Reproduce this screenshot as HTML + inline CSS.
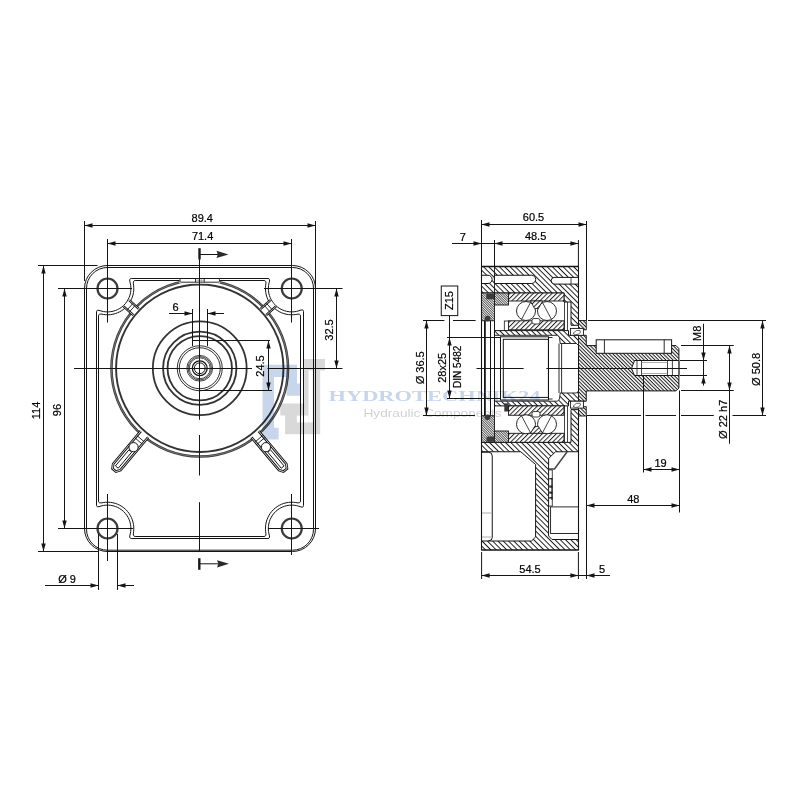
<!DOCTYPE html>
<html><head><meta charset="utf-8"><style>
html,body{margin:0;padding:0;background:#fff;}
svg{display:block;}
text{font-family:"Liberation Sans",sans-serif;}
</style></head><body>
<svg width="800" height="800" viewBox="0 0 800 800">
<rect width="800" height="800" fill="#fff"/>
<defs>
<pattern id="hm" patternUnits="userSpaceOnUse" width="8" height="3.75" patternTransform="rotate(45)"><rect width="8" height="3.75" fill="#fff"/><line x1="0" y1="0.5" x2="8" y2="0.5" stroke="#1a1a1a" stroke-width="0.95"/></pattern>
<pattern id="hsh" patternUnits="userSpaceOnUse" width="8" height="2.55" patternTransform="rotate(45)"><rect width="8" height="2.55" fill="#fff"/><line x1="0" y1="0.5" x2="8" y2="0.5" stroke="#1a1a1a" stroke-width="1.0"/></pattern>
<pattern id="hb" patternUnits="userSpaceOnUse" width="8" height="3.3" patternTransform="rotate(-45)"><rect width="8" height="3.3" fill="#fff"/><line x1="0" y1="0.5" x2="8" y2="0.5" stroke="#1a1a1a" stroke-width="0.95"/></pattern>
<pattern id="hs" patternUnits="userSpaceOnUse" width="8" height="1.7" patternTransform="rotate(45)"><rect width="8" height="1.7" fill="#fff"/><line x1="0" y1="0.5" x2="8" y2="0.5" stroke="#1a1a1a" stroke-width="0.75"/></pattern>
</defs>
<path d="M107.5,265.5 L292.5,265.5 A23.0,23.0 0 0 1 315.5,288.5 L315.5,528.5 A23.0,23.0 0 0 1 292.5,551.5 L107.5,551.5 A23.0,23.0 0 0 1 84.5,528.5 L84.5,288.5 A23.0,23.0 0 0 1 107.5,265.5 Z" stroke="#151515" stroke-width="1.0" fill="none" />
<path d="M107.5,267.5 L292.5,267.5 A21.0,21.0 0 0 1 313.5,288.5 L313.5,529.2 A21.0,21.0 0 0 1 292.5,550.2 L107.5,550.2 A21.0,21.0 0 0 1 86.5,529.2 L86.5,288.5 A21.0,21.0 0 0 1 107.5,267.5 Z" stroke="#151515" stroke-width="1.0" fill="none" />
<path d="M131.26,278.50 L267.99,278.50 Q270.59,278.50 268.97,283.16 L268.53,285.60 L268.35,288.07 L268.44,290.54 L268.78,292.99 L269.39,295.39 L270.24,297.71 L271.33,299.93 L272.65,302.02 L274.19,303.96 L275.92,305.73 L277.82,307.31 L279.89,308.67 L282.08,309.81 L284.39,310.71 L286.77,311.36 L289.22,311.76 L291.69,311.90 L294.16,311.78 L296.60,311.39 L298.99,310.75 Q303.50,308.74 303.50,311.34 L303.50,505.66 Q303.50,508.26 298.99,506.25 L296.60,505.61 L294.16,505.22 L291.69,505.10 L289.22,505.24 L286.77,505.64 L284.39,506.29 L282.08,507.19 L279.89,508.33 L277.82,509.69 L275.92,511.27 L274.19,513.04 L272.65,514.98 L271.33,517.07 L270.24,519.29 L269.39,521.61 L268.78,524.01 L268.44,526.46 L268.35,528.93 L268.53,531.40 L268.97,533.84 Q270.59,538.50 267.99,538.50 L131.26,538.50 Q128.66,538.50 130.27,533.90 L130.71,531.51 L130.89,529.08 L130.83,526.64 L130.51,524.22 L129.94,521.85 L129.12,519.55 L128.07,517.35 L126.80,515.27 L125.32,513.33 L123.65,511.56 L121.80,509.97 L119.79,508.59 L117.65,507.42 L115.40,506.48 L113.07,505.77 L110.67,505.32 L108.24,505.11 L105.81,505.16 L103.39,505.46 L101.01,506.02 Q96.50,507.85 96.50,505.25 L96.50,311.75 Q96.50,309.15 101.01,310.98 L103.39,311.54 L105.81,311.84 L108.24,311.89 L110.67,311.68 L113.07,311.23 L115.40,310.52 L117.65,309.58 L119.79,308.41 L121.80,307.03 L123.65,305.44 L125.32,303.67 L126.80,301.73 L128.07,299.65 L129.12,297.45 L129.94,295.15 L130.51,292.78 L130.83,290.36 L130.89,287.92 L130.71,285.49 L130.27,283.10 Q128.66,278.50 131.26,278.50 Z" stroke="#151515" stroke-width="1.0" fill="none" />
<path d="M135.15,280.50 L264.10,280.50 Q266.70,280.50 265.65,285.24 L265.46,287.67 L265.50,290.10 L265.76,292.51 L266.24,294.90 L266.94,297.22 L267.85,299.48 L268.97,301.64 L270.28,303.69 L271.77,305.60 L273.43,307.37 L275.26,308.98 L277.22,310.42 L279.30,311.67 L281.50,312.72 L283.78,313.56 L286.12,314.19 L288.52,314.60 L290.94,314.79 L293.37,314.75 L295.79,314.49 Q300.50,313.30 300.50,315.90 L300.50,501.10 Q300.50,503.70 295.79,502.51 L293.37,502.25 L290.94,502.21 L288.52,502.40 L286.12,502.81 L283.78,503.44 L281.50,504.28 L279.30,505.33 L277.22,506.58 L275.26,508.02 L273.43,509.63 L271.77,511.40 L270.28,513.31 L268.97,515.36 L267.85,517.52 L266.94,519.78 L266.24,522.10 L265.76,524.49 L265.50,526.90 L265.46,529.33 L265.65,531.76 Q266.70,536.50 264.10,536.50 L135.15,536.50 Q132.55,536.50 133.60,531.74 L133.79,529.30 L133.75,526.86 L133.48,524.43 L132.99,522.04 L132.28,519.70 L131.36,517.44 L130.23,515.28 L128.91,513.22 L127.40,511.30 L125.72,509.53 L123.88,507.93 L121.90,506.49 L119.80,505.25 L117.59,504.21 L115.29,503.38 L112.93,502.77 L110.52,502.37 L108.09,502.21 L105.64,502.27 L103.22,502.55 Q98.50,503.79 98.50,501.19 L98.50,315.81 Q98.50,313.21 103.22,314.45 L105.64,314.73 L108.09,314.79 L110.52,314.63 L112.93,314.23 L115.29,313.62 L117.59,312.79 L119.80,311.75 L121.90,310.51 L123.88,309.07 L125.72,307.47 L127.40,305.70 L128.91,303.78 L130.23,301.72 L131.36,299.56 L132.28,297.30 L132.99,294.96 L133.48,292.57 L133.75,290.14 L133.79,287.70 L133.60,285.26 Q132.55,280.50 135.15,280.50 Z" stroke="#151515" stroke-width="1.0" fill="none" />
<circle cx="199.75" cy="368.25" r="88.3" stroke="#3a3a3a" stroke-width="2.5" fill="none"/>
<circle cx="199.75" cy="368.25" r="88.3" stroke="#aaa" stroke-width="0.5" fill="none"/>
<circle cx="199.75" cy="368.25" r="83.7" stroke="#333" stroke-width="1.9" fill="none"/>
<circle cx="199.75" cy="368.25" r="46.9" stroke="#333" stroke-width="1.8" fill="none"/>
<circle cx="199.75" cy="368.25" r="36.7" stroke="#333" stroke-width="1.8" fill="none"/>
<circle cx="199.75" cy="368.25" r="32.2" stroke="#333" stroke-width="1.8" fill="none"/>
<circle cx="199.75" cy="368.25" r="22.5" stroke="#151515" stroke-width="0.9" fill="none"/>
<circle cx="199.75" cy="368.25" r="20.5" stroke="#151515" stroke-width="0.9" fill="none"/>
<circle cx="199.75" cy="368.25" r="12.9" stroke="#151515" stroke-width="0.8" fill="none"/>
<circle cx="199.75" cy="368.25" r="11.7" stroke="#151515" stroke-width="0.8" fill="none"/>
<circle cx="199.75" cy="368.25" r="10.5" stroke="#151515" stroke-width="0.8" fill="none"/>
<circle cx="199.75" cy="368.25" r="7.4" stroke="#151515" stroke-width="1.3" fill="none"/>
<circle cx="199.75" cy="368.25" r="5.4" stroke="#151515" stroke-width="1.0" fill="none"/>
<rect x="179.5" y="278.9" width="40.3" height="4.6" fill="#fff" stroke="none" stroke-width="1" rx="0" />
<rect x="180" y="278.5" width="39.5" height="3.7" fill="none" stroke="#151515" stroke-width="0.9" rx="1.2" />
<line x1="195.5" y1="278.5" x2="195.5" y2="282.2" stroke="#151515" stroke-width="0.9" />
<line x1="204.2" y1="278.5" x2="204.2" y2="282.2" stroke="#151515" stroke-width="0.9" />
<line x1="198.3" y1="278.5" x2="198.3" y2="282.2" stroke="#777" stroke-width="0.5" />
<line x1="201.3" y1="278.5" x2="201.3" y2="282.2" stroke="#777" stroke-width="0.5" />
<line x1="195.5" y1="280.3" x2="204.2" y2="280.3" stroke="#777" stroke-width="0.5" />
<circle cx="107.5" cy="288.5" r="10.0" stroke="#3c3c3c" stroke-width="2.2" fill="none"/>
<circle cx="291.75" cy="288.5" r="10.0" stroke="#3c3c3c" stroke-width="2.2" fill="none"/>
<circle cx="107.5" cy="528.5" r="10.0" stroke="#3c3c3c" stroke-width="2.2" fill="none"/>
<circle cx="291.75" cy="528.5" r="10.0" stroke="#3c3c3c" stroke-width="2.2" fill="none"/>
<path d="M258.71,431.04 L286.35,463.98 L287.00,468.66 L283.48,471.61 L278.99,470.16 L251.35,437.22" stroke="#151515" stroke-width="2.6" fill="#fff" />
<path d="M258.71,431.04 L286.35,463.98 L287.00,468.66 L283.48,471.61 L278.99,470.16 L251.35,437.22" stroke="#fff" stroke-width="0.8" fill="none" />
<path d="M270.55,449.83 L284.05,465.91 L281.29,468.23 L267.79,452.14 Z" stroke="#151515" stroke-width="1.0" fill="#fff" />
<circle cx="265.95712379771356" cy="447.15257764125477" r="4.6" stroke="#151515" stroke-width="1.0" fill="#fff"/>
<path d="M262.56,435.64 L255.21,441.81" stroke="#151515" stroke-width="0.9" fill="none" />
<path d="M264.49,437.94 L257.14,444.11" stroke="#151515" stroke-width="0.9" fill="none" />
<path d="M148.15,437.22 L120.51,470.16 L116.02,471.61 L112.50,468.66 L113.15,463.98 L140.79,431.04" stroke="#151515" stroke-width="2.6" fill="#fff" />
<path d="M148.15,437.22 L120.51,470.16 L116.02,471.61 L112.50,468.66 L113.15,463.98 L140.79,431.04" stroke="#fff" stroke-width="0.8" fill="none" />
<path d="M131.71,452.14 L118.21,468.23 L115.45,465.91 L128.95,449.83 Z" stroke="#151515" stroke-width="1.0" fill="#fff" />
<circle cx="133.54287620228644" cy="447.15257764125477" r="4.6" stroke="#151515" stroke-width="1.0" fill="#fff"/>
<path d="M144.29,441.81 L136.94,435.64" stroke="#151515" stroke-width="0.9" fill="none" />
<path d="M142.36,444.11 L135.01,437.94" stroke="#151515" stroke-width="0.9" fill="none" />
<path d="M260.63,308.78 L270.36,300.17 L275.93,306.46 L266.19,315.07 Z" stroke="none" stroke-width="0" fill="#fff" />
<path d="M260.63,308.78 L270.36,300.17" stroke="#151515" stroke-width="2.4" fill="none" />
<path d="M260.63,308.78 L270.36,300.17" stroke="#fff" stroke-width="0.7" fill="none" />
<path d="M266.19,315.07 L275.93,306.46" stroke="#151515" stroke-width="2.4" fill="none" />
<path d="M266.19,315.07 L275.93,306.46" stroke="#fff" stroke-width="0.7" fill="none" />
<path d="M264.37,305.47 L269.94,311.76" stroke="#151515" stroke-width="0.9" fill="none" />
<path d="M266.62,303.48 L272.19,309.77" stroke="#151515" stroke-width="0.9" fill="none" />
<path d="M133.31,315.07 L123.57,306.46 L129.14,300.17 L138.87,308.78 Z" stroke="none" stroke-width="0" fill="#fff" />
<path d="M133.31,315.07 L123.57,306.46" stroke="#151515" stroke-width="2.4" fill="none" />
<path d="M133.31,315.07 L123.57,306.46" stroke="#fff" stroke-width="0.7" fill="none" />
<path d="M138.87,308.78 L129.14,300.17" stroke="#151515" stroke-width="2.4" fill="none" />
<path d="M138.87,308.78 L129.14,300.17" stroke="#fff" stroke-width="0.7" fill="none" />
<path d="M129.56,311.76 L135.13,305.47" stroke="#151515" stroke-width="0.9" fill="none" />
<path d="M127.31,309.77 L132.88,303.48" stroke="#151515" stroke-width="0.9" fill="none" />
<line x1="192.5" y1="309" x2="192.5" y2="346" stroke="#151515" stroke-width="1" />
<line x1="207.5" y1="309" x2="207.5" y2="346" stroke="#151515" stroke-width="1" />
<line x1="169" y1="313.5" x2="192.5" y2="313.5" stroke="#151515" stroke-width="1" />
<path d="M192.50,313.50 L184.50,315.70 L184.50,311.30 Z" fill="#151515"/>
<line x1="207.5" y1="313.5" x2="224" y2="313.5" stroke="#151515" stroke-width="1" />
<path d="M207.50,313.50 L215.50,311.30 L215.50,315.70 Z" fill="#151515"/>
<text x="175.5" y="310.5" font-size="11" text-anchor="middle" fill="#000" stroke="#000" stroke-width="0.2">6</text>
<line x1="74" y1="368.5" x2="252" y2="368.5" stroke="#151515" stroke-width="1" />
<line x1="267.5" y1="368.5" x2="342.5" y2="368.5" stroke="#151515" stroke-width="1" />
<line x1="199.5" y1="259" x2="199.5" y2="419.75" stroke="#151515" stroke-width="1" />
<line x1="199.5" y1="435" x2="199.5" y2="475.5" stroke="#151515" stroke-width="1" />
<line x1="199.5" y1="502.2" x2="199.5" y2="551" stroke="#151515" stroke-width="1" />
<line x1="107.5" y1="239" x2="107.5" y2="322.5" stroke="#151515" stroke-width="1" />
<line x1="58" y1="288.5" x2="132" y2="288.5" stroke="#151515" stroke-width="1" />
<line x1="291.5" y1="239" x2="291.5" y2="322.5" stroke="#151515" stroke-width="1" />
<line x1="264" y1="288.5" x2="342.5" y2="288.5" stroke="#151515" stroke-width="1" />
<line x1="107.5" y1="494" x2="107.5" y2="561" stroke="#151515" stroke-width="1" />
<line x1="58" y1="528.5" x2="133" y2="528.5" stroke="#151515" stroke-width="1" />
<line x1="291.5" y1="494" x2="291.5" y2="555" stroke="#151515" stroke-width="1" />
<line x1="268" y1="528.5" x2="319" y2="528.5" stroke="#151515" stroke-width="1" />
<rect x="198.3" y="248.2" width="2.4" height="11.3" fill="#1a1a1a" stroke="none" stroke-width="1" rx="0" />
<line x1="199.5" y1="254.5" x2="218" y2="254.5" stroke="#151515" stroke-width="1" />
<path d="M228.5,254.4 L216.5,250.8 L217.8,254.4 L216.5,258 Z" fill="#2a2a2a"/>
<rect x="198.1" y="558.2" width="2.4" height="11.6" fill="#1a1a1a" stroke="none" stroke-width="1" rx="0" />
<line x1="199.3" y1="563.8" x2="218.5" y2="563.8" stroke="#151515" stroke-width="1" />
<path d="M229,563.8 L217,560.2 L218.3,563.8 L217,567.4 Z" fill="#2a2a2a"/>
<line x1="84.5" y1="221" x2="84.5" y2="281" stroke="#151515" stroke-width="1" />
<line x1="315.5" y1="221" x2="315.5" y2="290" stroke="#151515" stroke-width="1" />
<line x1="84.5" y1="225.5" x2="315.5" y2="225.5" stroke="#151515" stroke-width="1" />
<path d="M84.50,225.50 L92.50,223.30 L92.50,227.70 Z" fill="#151515"/>
<path d="M315.50,225.50 L307.50,227.70 L307.50,223.30 Z" fill="#151515"/>
<text x="202.3" y="222" font-size="11" text-anchor="middle" fill="#000" stroke="#000" stroke-width="0.2">89.4</text>
<line x1="107.5" y1="243.5" x2="291.5" y2="243.5" stroke="#151515" stroke-width="1" />
<path d="M107.50,243.50 L115.50,241.30 L115.50,245.70 Z" fill="#151515"/>
<path d="M291.50,243.50 L283.50,245.70 L283.50,241.30 Z" fill="#151515"/>
<text x="202.6" y="239.8" font-size="11" text-anchor="middle" fill="#000" stroke="#000" stroke-width="0.2">71.4</text>
<line x1="38" y1="265.5" x2="97.5" y2="265.5" stroke="#151515" stroke-width="1" />
<line x1="38" y1="551.5" x2="98" y2="551.5" stroke="#151515" stroke-width="1" />
<line x1="43.5" y1="265.5" x2="43.5" y2="551.5" stroke="#151515" stroke-width="1" />
<path d="M43.50,265.50 L45.70,273.50 L41.30,273.50 Z" fill="#151515"/>
<path d="M43.50,551.50 L41.30,543.50 L45.70,543.50 Z" fill="#151515"/>
<text x="39.8" y="410.5" font-size="11" text-anchor="middle" fill="#000" transform="rotate(-90 39.8 410.5)" stroke="#000" stroke-width="0.2">114</text>
<line x1="64.5" y1="288.5" x2="64.5" y2="528.5" stroke="#151515" stroke-width="1" />
<path d="M64.50,288.50 L66.70,296.50 L62.30,296.50 Z" fill="#151515"/>
<path d="M64.50,528.50 L62.30,520.50 L66.70,520.50 Z" fill="#151515"/>
<text x="61" y="410" font-size="11" text-anchor="middle" fill="#000" transform="rotate(-90 61 410)" stroke="#000" stroke-width="0.2">96</text>
<line x1="98.5" y1="534" x2="98.5" y2="590" stroke="#151515" stroke-width="1" />
<line x1="117.5" y1="534" x2="117.5" y2="590" stroke="#151515" stroke-width="1" />
<line x1="45" y1="585.5" x2="98.5" y2="585.5" stroke="#151515" stroke-width="1" />
<path d="M98.50,585.50 L90.50,587.70 L90.50,583.30 Z" fill="#151515"/>
<line x1="117.5" y1="585.5" x2="134" y2="585.5" stroke="#151515" stroke-width="1" />
<path d="M117.50,585.50 L125.50,583.30 L125.50,587.70 Z" fill="#151515"/>
<text x="67" y="582.5" font-size="11" text-anchor="middle" fill="#000" stroke="#000" stroke-width="0.2">Ø 9</text>
<line x1="192.5" y1="340.5" x2="270" y2="340.5" stroke="#151515" stroke-width="1" />
<line x1="200" y1="390.5" x2="272" y2="390.5" stroke="#151515" stroke-width="1" />
<line x1="268.5" y1="340.5" x2="268.5" y2="390.5" stroke="#151515" stroke-width="1" />
<path d="M268.50,340.50 L270.70,348.50 L266.30,348.50 Z" fill="#151515"/>
<path d="M268.50,390.50 L266.30,382.50 L270.70,382.50 Z" fill="#151515"/>
<text x="264.3" y="366" font-size="11" text-anchor="middle" fill="#000" transform="rotate(-90 264.3 366)" stroke="#000" stroke-width="0.2">24.5</text>
<line x1="336.5" y1="288.5" x2="336.5" y2="368.5" stroke="#151515" stroke-width="1" />
<path d="M336.50,288.50 L338.70,296.50 L334.30,296.50 Z" fill="#151515"/>
<path d="M336.50,368.50 L334.30,360.50 L338.70,360.50 Z" fill="#151515"/>
<text x="333" y="330" font-size="11" text-anchor="middle" fill="#000" transform="rotate(-90 333 330)" stroke="#000" stroke-width="0.2">32.5</text>
<path d="M481.50,266.50 L578.50,266.50 L578.50,325.30 L571.00,325.30 L571.00,302.00 L564.00,302.00 L564.00,293.00 L481.50,293.00 Z" fill="url(#hm)" stroke="#151515" stroke-width="1.0"/>
<path d="M481.5,275.25 L488,275.25 A4.12,4.12 0 0 1 488,283.5 L481.5,283.5" stroke="#151515" stroke-width="1.0" fill="#fff" />
<path d="M494.4,275.25 L531.6,275.25 A4.12,4.12 0 0 1 531.6,283.5 L494.4,283.5 Z" stroke="#151515" stroke-width="1.0" fill="#fff" />
<path d="M578.5,277.4 L554,277.4 A3.4,3.4 0 0 0 554,284.1 L578.5,284.1" stroke="#151515" stroke-width="1.0" fill="#fff" />
<line x1="571" y1="277.4" x2="571" y2="284.1" stroke="#151515" stroke-width="0.8" />
<line x1="494.5" y1="266.5" x2="494.5" y2="293" stroke="#151515" stroke-width="0.9" />
<rect x="481.5" y="293" width="13" height="27.75" fill="url(#hs)" stroke="#151515" stroke-width="0.9" rx="0" />
<rect x="494.5" y="293" width="14" height="12" fill="url(#hs)" stroke="#151515" stroke-width="0.9" rx="0" />
<rect x="486.3" y="293.8" width="7.8" height="5.5" fill="#3a3a3a" stroke="none" stroke-width="1" rx="1" />
<circle cx="487.6" cy="318.6" r="2.9" stroke="none" stroke-width="0" fill="#3a3a3a"/>
<rect x="508.5" y="293" width="55.5" height="8" fill="url(#hb)" stroke="#151515" stroke-width="0.9" rx="0" />
<rect x="508.5" y="320.8" width="55.5" height="9" fill="url(#hb)" stroke="#151515" stroke-width="0.9" rx="0" />
<circle cx="526" cy="311" r="9.5" stroke="#151515" stroke-width="0.9" fill="#fff"/>
<line x1="521.5" y1="319.5" x2="530.5" y2="302.5" stroke="#151515" stroke-width="0.8" />
<circle cx="547" cy="311" r="9.5" stroke="#151515" stroke-width="0.9" fill="#fff"/>
<line x1="551.5" y1="319.5" x2="542.5" y2="302.5" stroke="#151515" stroke-width="0.8" />
<path d="M530.50,301.00 L542.50,301.00 L538.50,308.50 L534.50,308.50 Z" fill="url(#hb)" stroke="#151515" stroke-width="0.8"/>
<rect x="532" y="318.5" width="8" height="5.5" fill="#fff" stroke="#151515" stroke-width="0.8" rx="2" />
<line x1="564.5" y1="302" x2="564.5" y2="330.5" stroke="#151515" stroke-width="0.8" />
<line x1="567.5" y1="302" x2="567.5" y2="330.5" stroke="#151515" stroke-width="0.8" />
<rect x="504.3" y="321" width="4.2" height="9.5" fill="#fff" stroke="#151515" stroke-width="0.8" rx="0" />
<path d="M494.50,330.60 L568.50,330.60 L568.50,335.30 L578.50,335.30 L578.50,401.20 L568.50,401.20 L568.50,405.90 L494.50,405.90 L494.50,401.20 L557.50,401.20 L559.50,399.00 L560.20,393.00 L576.50,393.00 L578.50,391.00 L578.50,345.50 L576.50,343.50 L560.20,343.50 L559.50,337.50 L557.50,335.30 L494.50,335.30 Z" fill="url(#hm)" stroke="none" stroke-width="0"/>
<path d="M578.5,335.3 L586.25,335.3 L586.25,345.6 L676,345.6 L678.9,348.5 L678.9,388.0 L676,390.9 L586.25,390.9 L586.25,401.2 L578.5,401.2 Z" stroke="none" stroke-width="0" fill="url(#hsh)" />
<path d="M494.50,330.60 L568.50,330.60 L568.50,335.30 L578.50,335.30 L586.25,335.30 L586.25,345.60 L676.00,345.60 L678.90,348.50 L678.90,388.00 L676.00,390.90 L586.25,390.90 L586.25,401.20 L578.50,401.20 L568.50,401.20 L568.50,405.90 L494.50,405.90" stroke="#151515" stroke-width="1.0" fill="none" />
<path d="M578.50,391.00 L576.50,393.00 L560.20,393.00 L559.50,399.00 L557.50,401.20 L494.50,401.20" stroke="#151515" stroke-width="0.9" fill="none" />
<path d="M578.50,345.50 L576.50,343.50 L560.20,343.50 L559.50,337.50 L557.50,335.30 L494.50,335.30" stroke="#151515" stroke-width="0.9" fill="none" />
<line x1="578.5" y1="345.5" x2="578.5" y2="391.0" stroke="#151515" stroke-width="1.0" />
<line x1="578.5" y1="335.3" x2="578.5" y2="345.5" stroke="#151515" stroke-width="0.9" />
<line x1="578.5" y1="401.2" x2="578.5" y2="391.0" stroke="#151515" stroke-width="0.9" />
<rect x="578.5" y="320.5" width="7.75" height="9.3" fill="url(#hsh)" stroke="#151515" stroke-width="0.9" rx="0" />
<rect x="578.5" y="406.7" width="7.75" height="9.3" fill="url(#hsh)" stroke="#151515" stroke-width="0.9" rx="0" />
<rect x="570.4" y="328.4" width="13" height="6.9" fill="#fff" stroke="#151515" stroke-width="0.9" rx="0" />
<path d="M573,333.4 q3,-4 7,-3 q2,2 -2,4 q-3,1 -5,-1" stroke="#444" stroke-width="0.8" fill="none"/>
<rect x="570.4" y="401.2" width="13" height="6.9" fill="#fff" stroke="#151515" stroke-width="0.9" rx="0" />
<path d="M573,406.2 q3,-4 7,-3 q2,2 -2,4 q-3,1 -5,-1" stroke="#444" stroke-width="0.8" fill="none"/>
<rect x="596.2" y="339.8" width="75.4" height="13.5" fill="#fff" stroke="#151515" stroke-width="1.0" rx="0" />
<line x1="604.4" y1="339.8" x2="604.4" y2="353.3" stroke="#151515" stroke-width="0.9" />
<line x1="664.2" y1="339.8" x2="664.2" y2="353.3" stroke="#151515" stroke-width="0.9" />
<path d="M634.5,360.5 L678.9,360.5 L678.9,375.5 L634.5,375.5 L631.5,368.5 Z" stroke="#151515" stroke-width="1.0" fill="#fff" />
<line x1="637" y1="360.5" x2="637" y2="375.5" stroke="#151515" stroke-width="0.8" />
<line x1="641.5" y1="360.5" x2="641.5" y2="375.5" stroke="#151515" stroke-width="0.8" />
<line x1="667.5" y1="360.5" x2="667.5" y2="375.5" stroke="#151515" stroke-width="0.8" />
<line x1="672.4" y1="360.5" x2="672.4" y2="375.5" stroke="#151515" stroke-width="0.8" />
<line x1="641.5" y1="362.5" x2="667.5" y2="362.5" stroke="#888" stroke-width="0.7" />
<line x1="641.5" y1="373.5" x2="667.5" y2="373.5" stroke="#888" stroke-width="0.7" />
<rect x="500.5" y="336.8" width="48" height="63.2" fill="#fff" stroke="#151515" stroke-width="1.0" rx="0" />
<rect x="503.3" y="339.3" width="45.1" height="58.1" fill="none" stroke="#151515" stroke-width="1.0" rx="0" />
<line x1="559" y1="343.5" x2="559" y2="393.0" stroke="#151515" stroke-width="0.9" />
<line x1="561.6" y1="343.5" x2="561.6" y2="393.0" stroke="#151515" stroke-width="0.9" />
<line x1="548.4" y1="337.5" x2="552.5" y2="337.5" stroke="#151515" stroke-width="0.9" />
<line x1="548.4" y1="399.0" x2="552.5" y2="399.0" stroke="#151515" stroke-width="0.9" />
<line x1="484.9" y1="320.75" x2="484.9" y2="415.75" stroke="#151515" stroke-width="1.8" />
<line x1="490.5" y1="320.75" x2="490.5" y2="415.75" stroke="#151515" stroke-width="1.0" />
<line x1="494.5" y1="320.75" x2="494.5" y2="415.75" stroke="#151515" stroke-width="1.0" />
<rect x="481.5" y="415.75" width="13" height="26.65" fill="url(#hs)" stroke="#151515" stroke-width="0.9" rx="0" />
<rect x="494.5" y="431" width="14" height="11.4" fill="url(#hs)" stroke="#151515" stroke-width="0.9" rx="0" />
<circle cx="487.5" cy="417.2" r="2.8" stroke="none" stroke-width="0" fill="#3a3a3a"/>
<rect x="486.5" y="436.4" width="8" height="5.4" fill="#3a3a3a" stroke="none" stroke-width="1" rx="1.5" />
<rect x="504.3" y="403.3" width="4.4" height="8.2" fill="#383838" stroke="none" stroke-width="1" rx="0" />
<rect x="508.5" y="405.9" width="55.5" height="9.35" fill="url(#hb)" stroke="#151515" stroke-width="0.9" rx="0" />
<rect x="508.5" y="433.3" width="55.5" height="9.1" fill="url(#hb)" stroke="#151515" stroke-width="0.9" rx="0" />
<circle cx="526" cy="424.25" r="9.5" stroke="#151515" stroke-width="0.9" fill="#fff"/>
<line x1="521.5" y1="415.75" x2="530.5" y2="432.75" stroke="#151515" stroke-width="0.8" />
<circle cx="547" cy="424.25" r="9.5" stroke="#151515" stroke-width="0.9" fill="#fff"/>
<line x1="551.5" y1="415.75" x2="542.5" y2="432.75" stroke="#151515" stroke-width="0.8" />
<path d="M530.50,433.30 L542.50,433.30 L538.50,426.50 L534.50,426.50 Z" fill="url(#hb)" stroke="#151515" stroke-width="0.8"/>
<rect x="532" y="411.5" width="8" height="5.5" fill="#fff" stroke="#151515" stroke-width="0.8" rx="2" />
<line x1="564.5" y1="406" x2="564.5" y2="442.4" stroke="#151515" stroke-width="0.8" />
<line x1="567.5" y1="406" x2="567.5" y2="442.4" stroke="#151515" stroke-width="0.8" />
<path d="M481.50,442.40 L571.00,442.40 L571.00,409.60 L578.50,409.60 L578.50,451.75 L555.50,451.75 L548.60,458.50 L548.60,536.00 L552.00,539.50 L578.50,539.50 L578.50,550.00 L481.50,550.00 L481.50,541.00 L531.50,541.00 L535.60,537.00 L535.60,464.50 L520.75,451.75 L481.50,451.75 Z" fill="url(#hm)" stroke="#151515" stroke-width="1.0"/>
<path d="M481.5,452.2 L488.5,452.2 Q492.25,452.2 492.25,456 L492.25,537.5 Q492.25,540.8 488.5,540.8" stroke="#151515" stroke-width="1.0" fill="none" />
<line x1="482" y1="513" x2="491.5" y2="513" stroke="#999" stroke-width="0.8" />
<line x1="482" y1="537" x2="491.5" y2="537" stroke="#999" stroke-width="0.8" />
<rect x="550.6" y="506.9" width="27.9" height="26.6" fill="#fff" stroke="#151515" stroke-width="0.9" rx="0" />
<line x1="548.6" y1="506.1" x2="552.5" y2="506.1" stroke="#151515" stroke-width="0.8" />
<path d="M548.6,469 L554.5,469 L567,452" stroke="#444" stroke-width="1.5" fill="none" />
<rect x="549.2" y="478" width="3.2" height="1.4" fill="#333" stroke="none" stroke-width="1" rx="0" />
<rect x="549.2" y="485.5" width="3.2" height="2.2" fill="#333" stroke="none" stroke-width="1" rx="0" />
<rect x="549.2" y="491.5" width="3.2" height="2.2" fill="#333" stroke="none" stroke-width="1" rx="0" />
<rect x="549.2" y="497" width="3.2" height="1.6" fill="#333" stroke="none" stroke-width="1" rx="0" />
<line x1="551.9" y1="478" x2="551.9" y2="500" stroke="#151515" stroke-width="0.9" />
<line x1="548.6" y1="470" x2="552.3" y2="470" stroke="#151515" stroke-width="0.7" />
<line x1="552.3" y1="470" x2="552.3" y2="506" stroke="#151515" stroke-width="0.8" />
<path d="M578.5,266.5 L578.5,320.5 M578.5,416 L578.5,550 L481.5,550 L481.5,266.5" stroke="#151515" stroke-width="1.1" fill="none" />
<line x1="481" y1="266.5" x2="579" y2="266.5" stroke="#151515" stroke-width="1.6" />
<line x1="481.5" y1="220" x2="481.5" y2="266.5" stroke="#151515" stroke-width="1" />
<line x1="586.5" y1="221" x2="586.5" y2="320.5" stroke="#151515" stroke-width="1" />
<line x1="586.5" y1="416" x2="586.5" y2="579" stroke="#151515" stroke-width="1" />
<line x1="481.5" y1="224.5" x2="586.5" y2="224.5" stroke="#151515" stroke-width="1" />
<path d="M481.50,224.50 L489.50,222.30 L489.50,226.70 Z" fill="#151515"/>
<path d="M586.50,224.50 L578.50,226.70 L578.50,222.30 Z" fill="#151515"/>
<text x="533.5" y="220.6" font-size="11" text-anchor="middle" fill="#000" stroke="#000" stroke-width="0.2">60.5</text>
<line x1="494.5" y1="240" x2="494.5" y2="266.5" stroke="#151515" stroke-width="1" />
<line x1="578.4" y1="240" x2="578.4" y2="266.5" stroke="#151515" stroke-width="1" />
<line x1="452" y1="243.5" x2="578.4" y2="243.5" stroke="#151515" stroke-width="1" />
<path d="M481.50,243.50 L473.50,245.70 L473.50,241.30 Z" fill="#151515"/>
<path d="M494.50,243.50 L502.50,241.30 L502.50,245.70 Z" fill="#151515"/>
<path d="M578.40,243.50 L570.40,245.70 L570.40,241.30 Z" fill="#151515"/>
<text x="462.8" y="240.6" font-size="11" text-anchor="middle" fill="#000" stroke="#000" stroke-width="0.2">7</text>
<text x="535.6" y="240.2" font-size="11" text-anchor="middle" fill="#000" stroke="#000" stroke-width="0.2">48.5</text>
<line x1="481.6" y1="552" x2="481.6" y2="579" stroke="#151515" stroke-width="1" />
<line x1="578.4" y1="552" x2="578.4" y2="579" stroke="#151515" stroke-width="1" />
<line x1="481.6" y1="575.5" x2="610" y2="575.5" stroke="#151515" stroke-width="1" />
<path d="M481.60,575.50 L489.60,573.30 L489.60,577.70 Z" fill="#151515"/>
<path d="M578.40,575.50 L570.40,577.70 L570.40,573.30 Z" fill="#151515"/>
<path d="M586.50,575.50 L594.50,573.30 L594.50,577.70 Z" fill="#151515"/>
<text x="530" y="573" font-size="11" text-anchor="middle" fill="#000" stroke="#000" stroke-width="0.2">54.5</text>
<text x="602" y="573" font-size="11" text-anchor="middle" fill="#000" stroke="#000" stroke-width="0.2">5</text>
<line x1="586.5" y1="505.5" x2="679.5" y2="505.5" stroke="#151515" stroke-width="1" />
<path d="M586.50,505.50 L594.50,503.30 L594.50,507.70 Z" fill="#151515"/>
<path d="M679.50,505.50 L671.50,507.70 L671.50,503.30 Z" fill="#151515"/>
<text x="633.3" y="503" font-size="11" text-anchor="middle" fill="#000" stroke="#000" stroke-width="0.2">48</text>
<line x1="643.5" y1="375.5" x2="643.5" y2="472.5" stroke="#151515" stroke-width="1" />
<line x1="679.5" y1="390.5" x2="679.5" y2="512.5" stroke="#151515" stroke-width="1" />
<line x1="643.5" y1="469.5" x2="679.5" y2="469.5" stroke="#151515" stroke-width="1" />
<path d="M643.50,469.50 L651.50,467.30 L651.50,471.70 Z" fill="#151515"/>
<path d="M679.50,469.50 L671.50,471.70 L671.50,467.30 Z" fill="#151515"/>
<text x="660.5" y="467" font-size="11" text-anchor="middle" fill="#000" stroke="#000" stroke-width="0.2">19</text>
<line x1="588" y1="320.5" x2="766" y2="320.5" stroke="#151515" stroke-width="1" />
<line x1="586.5" y1="415.5" x2="641" y2="415.5" stroke="#151515" stroke-width="1" />
<line x1="645.5" y1="415.5" x2="676" y2="415.5" stroke="#151515" stroke-width="1" />
<line x1="681" y1="415.5" x2="713.75" y2="415.5" stroke="#151515" stroke-width="1" />
<line x1="732.5" y1="415.5" x2="766" y2="415.5" stroke="#151515" stroke-width="1" />
<line x1="762.5" y1="320.5" x2="762.5" y2="415.5" stroke="#151515" stroke-width="1" />
<path d="M762.50,320.50 L764.70,328.50 L760.30,328.50 Z" fill="#151515"/>
<path d="M762.50,415.50 L760.30,407.50 L764.70,407.50 Z" fill="#151515"/>
<text x="760" y="369.4" font-size="11" text-anchor="middle" fill="#000" transform="rotate(-90 760 369.4)" stroke="#000" stroke-width="0.2">Ø 50.8</text>
<line x1="681" y1="345.5" x2="733.75" y2="345.5" stroke="#151515" stroke-width="1" />
<line x1="681" y1="390.5" x2="733.75" y2="390.5" stroke="#151515" stroke-width="1" />
<line x1="729.5" y1="345.5" x2="729.5" y2="443.75" stroke="#151515" stroke-width="1" />
<path d="M729.50,345.50 L731.70,353.50 L727.30,353.50 Z" fill="#151515"/>
<path d="M729.50,390.50 L727.30,382.50 L731.70,382.50 Z" fill="#151515"/>
<text x="726.7" y="419.3" font-size="11" text-anchor="middle" fill="#000" transform="rotate(-90 726.7 419.3)" stroke="#000" stroke-width="0.2">Ø 22 h7</text>
<line x1="680" y1="360.5" x2="707" y2="360.5" stroke="#151515" stroke-width="1" />
<line x1="680" y1="375.5" x2="707" y2="375.5" stroke="#151515" stroke-width="1" />
<line x1="703.5" y1="323.75" x2="703.5" y2="385.6" stroke="#151515" stroke-width="1" />
<path d="M703.50,360.50 L701.30,352.50 L705.70,352.50 Z" fill="#151515"/>
<path d="M703.50,375.50 L705.70,383.50 L701.30,383.50 Z" fill="#151515"/>
<text x="701.2" y="333.3" font-size="11" text-anchor="middle" fill="#000" transform="rotate(-90 701.2 333.3)" stroke="#000" stroke-width="0.2">M8</text>
<line x1="476.5" y1="368.5" x2="523.6" y2="368.5" stroke="#151515" stroke-width="1" />
<line x1="546.4" y1="368.5" x2="687" y2="368.5" stroke="#151515" stroke-width="1" />
<line x1="423" y1="320.5" x2="444.4" y2="320.5" stroke="#151515" stroke-width="1" />
<line x1="453" y1="320.5" x2="475.6" y2="320.5" stroke="#151515" stroke-width="1" />
<line x1="423" y1="415.5" x2="475" y2="415.5" stroke="#151515" stroke-width="1" />
<line x1="426.5" y1="320.5" x2="426.5" y2="415.5" stroke="#151515" stroke-width="1" />
<path d="M426.50,320.50 L428.70,328.50 L424.30,328.50 Z" fill="#151515"/>
<path d="M426.50,415.50 L424.30,407.50 L428.70,407.50 Z" fill="#151515"/>
<text x="424.2" y="367.8" font-size="11" text-anchor="middle" fill="#000" transform="rotate(-90 424.2 367.8)" stroke="#000" stroke-width="0.2">Ø 36.5</text>
<line x1="447" y1="337.5" x2="500.5" y2="337.5" stroke="#151515" stroke-width="1" />
<line x1="447" y1="398.5" x2="500.5" y2="398.5" stroke="#151515" stroke-width="1" />
<line x1="449.5" y1="315.6" x2="449.5" y2="398.5" stroke="#151515" stroke-width="1" />
<path d="M449.50,337.50 L451.70,345.50 L447.30,345.50 Z" fill="#151515"/>
<path d="M449.50,398.50 L447.30,390.50 L451.70,390.50 Z" fill="#151515"/>
<text x="446" y="367.8" font-size="11" text-anchor="middle" fill="#000" transform="rotate(-90 446 367.8)" stroke="#000" stroke-width="0.2">28x25</text>
<text x="461" y="366.8" font-size="11" text-anchor="middle" fill="#000" transform="rotate(-90 461 366.8)" stroke="#000" stroke-width="0.2" textLength="42.5" lengthAdjust="spacingAndGlyphs">DIN 5482</text>
<rect x="441.25" y="286" width="16.5" height="29.6" fill="#fff" stroke="#151515" stroke-width="1.0" rx="0" />
<text x="453.3" y="300.6" font-size="11" text-anchor="middle" fill="#000" transform="rotate(-90 453.3 300.6)" stroke="#000" stroke-width="0.2">Z15</text>
<g style="mix-blend-mode:multiply">
<path d="M262.50,364.70 L297.00,364.70 L297.00,383.50 L300.50,383.50 L300.50,395.70 L286.50,395.70 L286.50,377.00 L274.00,377.00 L274.00,427.70 L278.60,427.70 L278.60,439.50 L262.50,439.50 Z" stroke="none" stroke-width="0" fill="#c8d6ec" />
<path d="M304.20,359.00 L325.00,359.00 L325.00,370.40 L320.20,370.40 L320.20,434.20 L285.10,434.20 L285.10,415.60 L280.30,415.60 L280.30,403.40 L304.20,403.40 Z" stroke="none" stroke-width="0" fill="#d9d9d9" />
<rect x="308.5" y="370.4" width="4.3" height="52" fill="#fff" stroke="none" stroke-width="1" rx="0" />
<rect x="296.8" y="415.6" width="11.7" height="6.8" fill="#fff" stroke="none" stroke-width="1" rx="0" />
<text x="328.5" y="401" font-size="14.2" style="font-family:'Liberation Serif',serif;font-weight:bold" fill="#c8d6ec" textLength="212" lengthAdjust="spacingAndGlyphs">HYDROTECHNIK24</text>
<text x="363.5" y="416.8" font-size="11.6" fill="#d2d2d2" textLength="138" lengthAdjust="spacingAndGlyphs">Hydraulic Components</text>
</g>
</svg></body></html>
